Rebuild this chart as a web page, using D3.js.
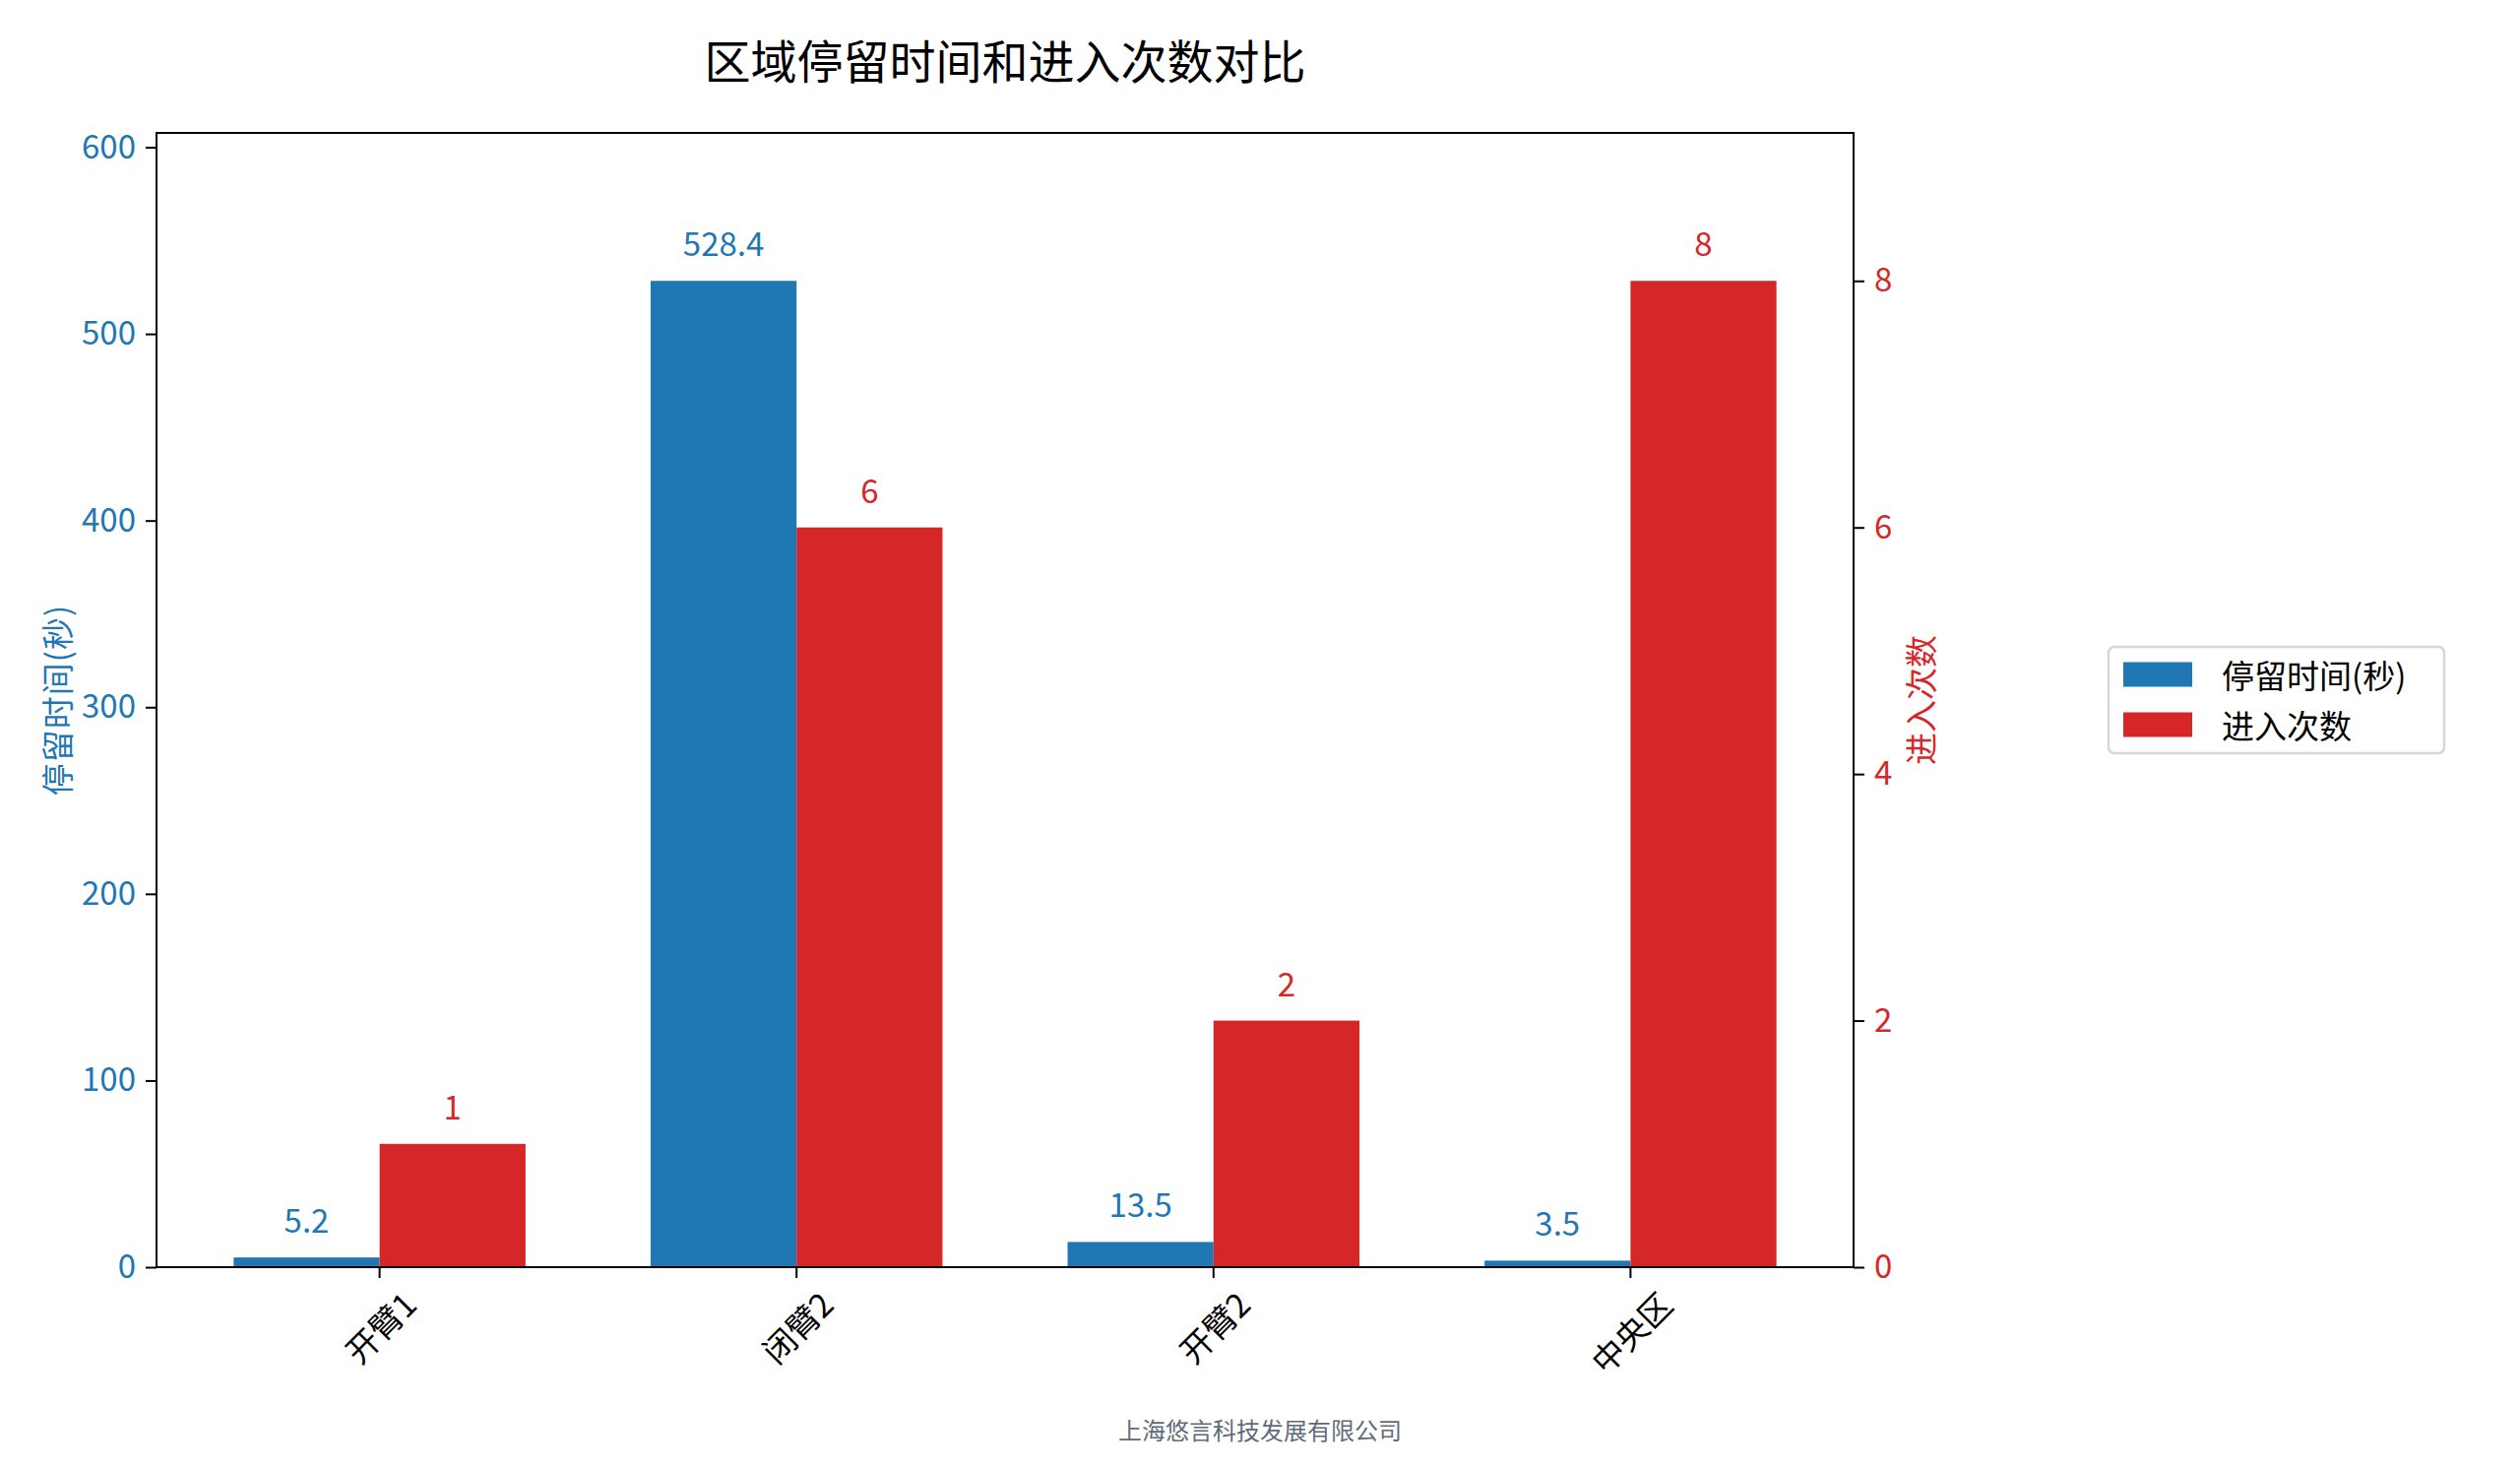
<!DOCTYPE html>
<html>
<head>
<meta charset="utf-8">
<script src="https://cdn.jsdelivr.net/npm/d3@7"></script>
<style>
    html, body { margin: 0; padding: 0; background: #ffffff; }
    svg { display: block; font-family: "Noto Sans CJK SC", "Noto Sans", sans-serif; }
</style>
</head>
<body>
<div id="chart"></div>
<script>
(function () {
    "use strict";

    const categories = ["开臂1", "闭臂2", "开臂2", "中央区"];
    const dwellSeconds = [5.2, 528.4, 13.5, 3.5];
    const entryCounts = [1, 6, 2, 8];
    const leftTicks = [0, 100, 200, 300, 400, 500, 600];
    const rightTicks = [0, 2, 4, 6, 8];
    const seriesNames = ["停留时间(秒)", "进入次数"];

    const width = 2560;
    const height = 1493;
    const plot = { left: 159, right: 1883, top: 135, bottom: 1287 };
    const blue = "#1f77b4";
    const red = "#d62728";
    const fontSize = 33;

    const svg = d3.select("#chart")
        .append("svg")
        .attr("width", width)
        .attr("height", height)
        .attr("viewBox", [0, 0, width, height]);

    const x = d3.scaleBand()
        .domain(categories)
        .range([plot.left, plot.right])
        .paddingInner(0.3)
        .paddingOuter(0.185);
    const half = x.bandwidth() / 2;

    const yLeft = d3.scaleLinear()
        .domain([0, d3.max(dwellSeconds) * 1.15])
        .range([plot.bottom, plot.top]);
    const yRight = d3.scaleLinear()
        .domain([0, d3.max(entryCounts) * 1.15])
        .range([plot.bottom, plot.top]);

    const rows = categories.map((c, i) => ({ c, dwell: dwellSeconds[i], count: entryCounts[i] }));

    // bars
    svg.append("g")
        .selectAll("rect")
        .data(rows)
        .join("rect")
        .attr("x", (d) => x(d.c))
        .attr("y", (d) => yLeft(d.dwell))
        .attr("width", half)
        .attr("height", (d) => plot.bottom - yLeft(d.dwell))
        .attr("fill", blue);

    svg.append("g")
        .selectAll("rect")
        .data(rows)
        .join("rect")
        .attr("x", (d) => x(d.c) + half)
        .attr("y", (d) => yRight(d.count))
        .attr("width", half)
        .attr("height", (d) => plot.bottom - yRight(d.count))
        .attr("fill", red);

    // value labels
    svg.append("g")
        .attr("text-anchor", "middle")
        .style("font-size", fontSize + "px")
        .selectAll("text")
        .data(rows)
        .join("text")
        .attr("x", (d) => x(d.c) + half / 2)
        .attr("y", (d) => yLeft(d.dwell) - 25)
        .attr("fill", blue)
        .text((d) => d.dwell.toFixed(1));

    svg.append("g")
        .attr("text-anchor", "middle")
        .style("font-size", fontSize + "px")
        .selectAll("text")
        .data(rows)
        .join("text")
        .attr("x", (d) => x(d.c) + half * 1.5)
        .attr("y", (d) => yRight(d.count) - 25)
        .attr("fill", red)
        .text((d) => d.count);

    // axes
    const leftAxis = svg.append("g")
        .attr("transform", `translate(${plot.left},0)`)
        .call(d3.axisLeft(yLeft).tickValues(leftTicks).tickSize(11).tickPadding(10));
    leftAxis.select(".domain").remove();
    leftAxis.selectAll("line").attr("stroke", "#000").attr("stroke-width", 2);
    leftAxis.selectAll("text")
        .attr("fill", blue)
        .style("font-family", "\"Noto Sans CJK SC\", sans-serif")
        .style("font-size", fontSize + "px");

    const rightAxis = svg.append("g")
        .attr("transform", `translate(${plot.right},0)`)
        .call(d3.axisRight(yRight).tickValues(rightTicks).tickSize(11).tickPadding(10));
    rightAxis.select(".domain").remove();
    rightAxis.selectAll("line").attr("stroke", "#000").attr("stroke-width", 2);
    rightAxis.selectAll("text")
        .attr("fill", red)
        .style("font-family", "\"Noto Sans CJK SC\", sans-serif")
        .style("font-size", fontSize + "px");

    const bottomAxis = svg.append("g")
        .attr("transform", `translate(0,${plot.bottom})`)
        .call(d3.axisBottom(x).tickSize(11).tickFormat(() => ""));
    bottomAxis.select(".domain").remove();
    bottomAxis.selectAll("line").attr("stroke", "#000").attr("stroke-width", 2);

    // rotated category labels, bbox centred under each tick
    const catLabels = svg.append("g")
        .style("font-size", fontSize + "px")
        .attr("text-anchor", "middle")
        .selectAll("text")
        .data(categories)
        .join("text")
        .attr("fill", "#000")
        .attr("dominant-baseline", "central")
        .text((d) => d);
    catLabels.attr("transform", function (d) {
        const w = this.getComputedTextLength();
        const side = (w + fontSize) / Math.SQRT2;
        const cx = x(d) + half;
        const cy = plot.bottom + 19 + side / 2;
        return `translate(${cx},${cy}) rotate(-45)`;
    });

    // frame
    svg.append("rect")
        .attr("x", plot.left)
        .attr("y", plot.top)
        .attr("width", plot.right - plot.left)
        .attr("height", plot.bottom - plot.top)
        .attr("fill", "none")
        .attr("stroke", "#000")
        .attr("stroke-width", 2);

    // axis titles
    svg.append("text")
        .attr("transform", `translate(57,${(plot.top + plot.bottom) / 2}) rotate(-90)`)
        .attr("text-anchor", "middle")
        .attr("dominant-baseline", "central")
        .attr("fill", blue)
        .style("font-size", fontSize + "px")
        .style("letter-spacing", "1px")
        .text(seriesNames[0]);

    svg.append("text")
        .attr("transform", `translate(1950,${(plot.top + plot.bottom) / 2}) rotate(-90)`)
        .attr("text-anchor", "middle")
        .attr("dominant-baseline", "central")
        .attr("fill", red)
        .style("font-size", fontSize + "px")
        .text(seriesNames[1]);

    // title
    svg.append("text")
        .attr("x", (plot.left + plot.right) / 2)
        .attr("y", 59)
        .attr("text-anchor", "middle")
        .attr("dominant-baseline", "central")
        .attr("fill", "#000")
        .style("font-size", "47px")
        .text("区域停留时间和进入次数对比");

    // legend
    const legend = svg.append("g").attr("transform", "translate(2142,657)");
    legend.append("rect")
        .attr("width", 341)
        .attr("height", 108)
        .attr("rx", 6)
        .attr("fill", "#fff")
        .attr("stroke", "#d6d6d6")
        .attr("stroke-width", 2.5);
    const items = legend.selectAll("g.item")
        .data(seriesNames)
        .join("g")
        .attr("class", "item")
        .attr("transform", (d, i) => `translate(15,${28 + i * 51})`);
    items.append("rect")
        .attr("y", -12.5)
        .attr("width", 70)
        .attr("height", 25)
        .attr("fill", (d, i) => (i === 0 ? blue : red));
    items.append("text")
        .attr("x", 100)
        .attr("dominant-baseline", "central")
        .attr("fill", "#000")
        .style("font-size", fontSize + "px")
        .text((d) => d);

    // footer
    svg.append("text")
        .attr("x", width / 2)
        .attr("y", 1451)
        .attr("text-anchor", "middle")
        .attr("dominant-baseline", "central")
        .attr("fill", "#5f6b7a")
        .style("font-size", "24px")
        .text("上海悠言科技发展有限公司");
})();
</script>
</body>
</html>
